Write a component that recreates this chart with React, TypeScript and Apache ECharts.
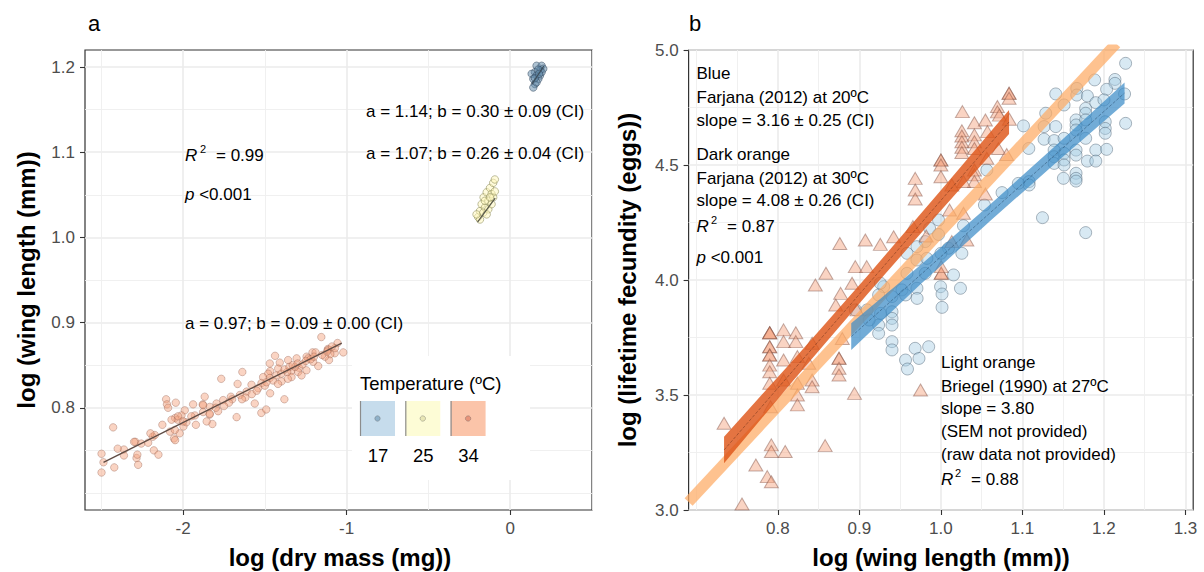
import React, { useEffect, useRef } from "react";
import * as echarts from "echarts";

const FONT = '"Liberation Sans", Arial, Helvetica, sans-serif';

// ---------- axis breaks ----------
const xTicksA = [-2, -1, 0];
const xMinorA = [-2.5, -1.5, -0.5, 0.5];
const yTicksA = [0.8, 0.9, 1.0, 1.1, 1.2];
const yMinorA = [0.7, 0.75, 0.85, 0.95, 1.05, 1.15];
const xTicksB = [0.8, 0.9, 1.0, 1.1, 1.2, 1.3];
const xMinorB = [0.7, 0.75, 0.85, 0.95, 1.05, 1.15, 1.25];
const yTicksB = [3.0, 3.5, 4.0, 4.5, 5.0];
const yMinorB = [3.25, 3.75, 4.25, 4.75];

// ---------- panel a data: [log dry mass, log wing length] ----------
const pointsA34 = [
  [-2.499, 0.746], [-2.499, 0.724], [-2.487, 0.736], [-2.428, 0.777], [-2.421, 0.73], [-2.362, 0.751], [-2.362, 0.744],
  [-2.292, 0.76], [-2.285, 0.741], [-2.275, 0.733], [-2.28, 0.745], [-2.256, 0.758], [-2.214, 0.759], [-2.186, 0.766],
  [-2.179, 0.75], [-2.151, 0.745], [-2.127, 0.78], [-2.104, 0.81], [-2.099, 0.804], [-2.092, 0.8], [-2.08, 0.772],
  [-2.056, 0.764], [-2.049, 0.788], [-2.045, 0.806], [-2.049, 0.762], [-2.033, 0.786], [-2.021, 0.77], [-1.998, 0.778],
  [-1.939, 0.804], [-1.922, 0.78], [-1.88, 0.804], [-1.868, 0.813], [-1.838, 0.792], [-1.821, 0.781], [-1.856, 0.784],
  [-1.767, 0.834], [-1.673, 0.789], [-1.638, 0.842], [-1.562, 0.805], [-1.522, 0.794], [-1.492, 0.798], [-1.468, 0.817],
  [-1.381, 0.81], [-1.155, 0.883], [-1.056, 0.876], [-1.021, 0.865], [-1.073, 0.864], [-1.115, 0.869], [-1.108, 0.856],
  [-1.174, 0.849], [-1.438, 0.861], [-1.409, 0.853], [-1.468, 0.843], [-1.339, 0.843], [-1.292, 0.847], [-1.245, 0.86],
  [-1.209, 0.865], [-1.113, 0.868], [-1.1, 0.863], [-1.19, 0.865], [-1.235, 0.858], [-1.306, 0.858], [-1.358, 0.856],
  [-1.47, 0.852], [-1.419, 0.846], [-1.364, 0.842], [-1.297, 0.842], [-1.246, 0.844], [-1.48, 0.84], [-1.511, 0.836],
  [-1.521, 0.829], [-1.541, 0.823], [-1.582, 0.827], [-1.612, 0.819], [-1.653, 0.815], [-1.667, 0.828], [-1.708, 0.813],
  [-1.755, 0.809], [-1.796, 0.805], [-1.837, 0.801], [-1.878, 0.803], [-1.99, 0.797], [-2.01, 0.791], [-2.031, 0.79],
  [-2.071, 0.786], [-2.051, 0.774], [-1.98, 0.783], [-1.928, 0.791], [-1.878, 0.795], [-1.837, 0.793], [-1.786, 0.796],
  [-2.173, 0.768], [-1.47, 0.835], [-1.398, 0.831], [-1.337, 0.836], [-1.276, 0.838], [-1.317, 0.848], [-1.205, 0.854],
  [-1.133, 0.86], [-1.072, 0.87], [-1.58, 0.816], [-1.55, 0.82], [-1.5, 0.826], [-1.45, 0.832], [-1.43, 0.838],
  [-1.4, 0.84], [-1.38, 0.845], [-1.35, 0.848], [-1.33, 0.85], [-1.3, 0.852], [-1.27, 0.851], [-1.25, 0.855],
  [-1.22, 0.857], [-1.2, 0.86], [-1.15, 0.862], [-1.12, 0.866], [-1.09, 0.872], [-1.7, 0.81], [-1.72, 0.806],
  [-1.75, 0.802], [-1.8, 0.8], [-1.95, 0.79], [-2.0, 0.784], [-2.2, 0.77], [-2.3, 0.76], [-2.4, 0.752],
  [-1.62, 0.812], [-1.64, 0.81], [-1.49, 0.83], [-1.42, 0.828], [-1.36, 0.834],
];
const pointsA25 = [
  [-0.196, 1.024], [-0.185, 1.031], [-0.175, 1.039], [-0.163, 1.047], [-0.155, 1.035], [-0.144, 1.053], [-0.134, 1.043],
  [-0.124, 1.058], [-0.114, 1.051], [-0.104, 1.064], [-0.094, 1.068], [-0.185, 1.021], [-0.165, 1.029], [-0.134, 1.033],
  [-0.114, 1.039], [-0.144, 1.027], [-0.104, 1.047], [-0.094, 1.054], [-0.206, 1.027], [-0.155, 1.043], [-0.124, 1.047],
];
const pointsA17 = [
  [0.161, 1.2015], [0.192, 1.2015], [0.202, 1.198], [0.182, 1.196], [0.151, 1.194], [0.131, 1.192], [0.161, 1.19],
  [0.182, 1.19], [0.141, 1.186], [0.172, 1.186], [0.151, 1.18], [0.141, 1.176], [0.161, 1.182], [0.192, 1.194],
  [0.171, 1.197], [0.151, 1.187], [0.176, 1.192],
];
const fitA34 = [[-2.487, 0.736], [-1.03, 0.876]];
const fitA25 = [[-0.2, 1.018], [-0.092, 1.046]];
const fitA17 = [[0.133, 1.18], [0.205, 1.201]];

// ---------- panel b data: [log wing length, log lifetime fecundity] ----------
const fecBlue = [
  [1.2266, 4.942], [1.1886, 4.87], [1.2135, 4.872], [1.2135, 4.855], [1.2033, 4.829], [1.1409, 4.809], [1.1667, 4.833],
  [1.1667, 4.804], [1.1797, 4.8], [1.2253, 4.809], [1.1511, 4.761], [1.1286, 4.725], [1.1776, 4.746], [1.1776, 4.725],
  [1.19, 4.771], [1.2, 4.783], [1.1013, 4.67], [1.1266, 4.667], [1.1409, 4.667], [1.1658, 4.696], [1.1658, 4.674],
  [1.1658, 4.652], [1.1776, 4.696], [1.2016, 4.688], [1.2016, 4.659], [1.2016, 4.638], [1.2266, 4.681], [1.1266, 4.612],
  [1.1389, 4.606], [1.1511, 4.616], [1.1776, 4.616], [1.1078, 4.572], [1.1389, 4.565], [1.1389, 4.536], [1.1389, 4.507],
  [1.1511, 4.551], [1.1511, 4.522], [1.1511, 4.5], [1.1658, 4.565], [1.1658, 4.543], [1.19, 4.565], [1.2033, 4.568],
  [1.1797, 4.517], [1.19, 4.517], [1.1503, 4.442], [1.1658, 4.464], [1.1658, 4.442], [1.1658, 4.43], [1.1082, 4.428],
  [1.1082, 4.413], [1.1246, 4.271], [1.1776, 4.206], [1.0563, 4.478], [1.0534, 4.326], [0.9971, 4.261], [0.9861, 4.225],
  [1.0277, 4.236], [0.9971, 4.198], [0.9808, 4.167], [1.0093, 4.138], [1.0257, 4.116], [1.0, 4.116], [0.9706, 4.145],
  [0.9584, 4.116], [0.9706, 4.087], [0.9828, 4.094], [1.0155, 4.022], [0.9996, 3.971], [1.024, 3.964], [0.9706, 3.964],
  [0.9522, 3.957], [0.9298, 3.971], [0.9808, 4.029], [0.9584, 4.029], [0.9236, 3.935], [0.94, 3.928], [0.9566, 3.935],
  [0.9708, 3.92], [1.0014, 3.939], [1.0014, 3.881], [0.9094, 3.87], [0.926, 3.855], [0.94, 3.862], [0.94, 3.833],
  [0.94, 3.804], [0.9236, 3.804], [0.9236, 3.768], [0.94, 3.732], [0.94, 3.696], [0.9684, 3.703], [0.985, 3.71],
  [0.9566, 3.652], [0.9731, 3.659], [0.959, 3.613], [0.895, 3.87], [0.912, 3.826], [0.9257, 3.986], [1.095, 4.42],
  [1.075, 4.38],
];
const fecOrange = [
  [0.846, 3.978], [0.877, 3.942], [0.891, 3.986], [0.871, 3.891], [0.897, 3.87], [0.79, 3.771], [0.79, 3.771],
  [0.79, 3.771], [0.807, 3.783], [0.822, 3.771], [0.807, 3.732], [0.822, 3.732], [0.79, 3.71], [0.79, 3.71],
  [0.79, 3.674], [0.79, 3.674], [0.79, 3.63], [0.79, 3.601], [0.807, 3.652], [0.824, 3.667], [0.842, 3.725],
  [0.838, 3.638], [0.875, 3.66], [0.875, 3.66], [0.875, 3.616], [0.875, 3.587], [0.879, 3.746], [0.79, 3.551],
  [0.807, 3.565], [0.824, 3.551], [0.842, 3.565], [0.842, 3.536], [0.824, 3.5], [0.824, 3.457], [0.791, 3.449],
  [0.894, 3.507], [0.734, 3.377], [0.792, 3.283], [0.792, 3.254], [0.809, 3.254], [0.858, 3.28], [0.773, 3.196],
  [0.787, 3.145], [0.792, 3.123], [0.756, 3.026], [0.975, 3.522], [1.0836, 4.812], [1.0836, 4.812], [1.0836, 4.79],
  [1.0693, 4.754], [1.0693, 4.731], [1.0718, 4.717], [1.0264, 4.732], [1.0411, 4.684], [1.0546, 4.696], [1.084, 4.699],
  [1.0257, 4.649], [1.0257, 4.626], [1.0257, 4.601], [1.0257, 4.577], [1.0257, 4.554], [1.0411, 4.631], [1.0411, 4.601],
  [1.0411, 4.572], [1.0571, 4.645], [1.0706, 4.572], [1.0807, 4.546], [1.0563, 4.529], [1.0, 4.522], [1.0, 4.522],
  [1.0, 4.5], [1.0, 4.449], [1.0411, 4.478], [1.0411, 4.457], [1.0411, 4.428], [1.0277, 4.428], [1.0134, 4.413],
  [1.0546, 4.374], [0.9685, 4.442], [0.9685, 4.391], [0.9685, 4.352], [1.0106, 4.304], [1.0277, 4.29], [0.9657, 4.232],
  [0.982, 4.191], [0.942, 4.188], [0.9257, 4.155], [0.9073, 4.174], [1.0004, 4.029], [1.0004, 4.029], [1.0004, 4.058],
  [1.0134, 4.167], [1.0318, 4.174], [0.876, 4.159], [0.895, 4.058], [0.909, 4.058], [0.859, 4.029],
];
const ribbonDarkX = [0.734, 0.82, 0.91, 1.0, 1.0836];
const ribbonDarkLo = [3.203, 3.567, 3.939, 4.302, 4.635];
const ribbonDarkHi = [3.319, 3.657, 4.019, 4.39, 4.739];
const ribbonBlueX = [0.89, 0.975, 1.06, 1.145, 1.2253];
const ribbonBlueLo = [3.696, 3.981, 4.255, 4.522, 4.767];
const ribbonBlueHi = [3.812, 4.065, 4.327, 4.598, 4.859];
const fitDark = [[0.734, 3.261], [1.0836, 4.687]];
const fitBlue = [[0.89, 3.754], [1.2253, 4.813]];
const fitLight = [[0.6905, 3.035], [1.215, 5.028]];

// legend
const legendTemps = ["17", "25", "34"];
const legendFill = ["#c6dcec", "#fdfcd6", "#fbc4a9"];
const legendDot = ["#8fb1c9", "#e9e7b5", "#e8947a"];

// ---------- helpers ----------
const majorAxis = (gridIndex: number, min: number, max: number, ticks: number[], fmt: (v: number) => string, pos: string) => ({
  type: "value", gridIndex, min, max, position: pos,
  axisLine: { show: false, onZero: false },
  axisTick: { show: true, customValues: ticks, length: 5, lineStyle: { color: "#333333", width: 1.1 } },
  axisLabel: { customValues: ticks, formatter: fmt, color: "#4d4d4d", fontSize: 17, fontFamily: FONT, margin: 10 },
  splitLine: { show: true, lineStyle: { color: "#ebebeb", width: 1.6 } },
});
const minorAxis = (gridIndex: number, min: number, max: number, ticks: number[], pos: string) => ({
  type: "value", gridIndex, min, max, position: pos,
  axisLine: { show: false, onZero: false },
  axisTick: { show: false, customValues: ticks },
  axisLabel: { show: false, customValues: ticks },
  splitLine: { show: true, lineStyle: { color: "#eeeeee", width: 0.9 } },
});

const ribbon = (xs: number[], lo: number[], hi: number[], color: string) => ({
  type: "custom", xAxisIndex: 2, yAxisIndex: 2, silent: true, z: 4,
  data: xs.map((x, i) => [x, lo[i], hi[i]]),
  renderItem: (params: any, api: any) => {
    if (params.dataIndex !== 0) return null;
    const pts: number[][] = [];
    for (let i = 0; i < xs.length; i++) pts.push(api.coord([xs[i], hi[i]]));
    for (let i = xs.length - 1; i >= 0; i--) pts.push(api.coord([xs[i], lo[i]]));
    return { type: "polygon", shape: { points: pts }, style: { fill: color } };
  },
});

const T = (x: number, y: number, text: string, size = 17, extra: any = {}, styleExtra: any = {}) => ({
  type: "text", x, y, z: 60, ...extra,
  style: { text, fontSize: size, fontFamily: FONT, fill: "#000", align: "left", verticalAlign: "middle", ...styleExtra },
});
const italicP = (x: number, y: number) =>
  T(x, y, "{i|p} <0.001", 17, {}, { rich: { i: { fontStyle: "italic", fontSize: 17, fontFamily: FONT, fill: "#000" } } });
const rSquared = (x: number, y: number, supX: number, eqX: number, val: string) => [
  T(x, y, "R", 17, {}, { fontStyle: "italic" }),
  T(supX, y - 6, "2", 11),
  T(eqX, y, "= " + val, 17),
];

export default function App() {
  const ref = useRef<HTMLDivElement>(null);
  useEffect(() => {
    const chart = echarts.init(ref.current!, null, { renderer: "svg" });

    const legendEls: any[] = [
      { type: "rect", z: 50, shape: { x: 352, y: 356, width: 178, height: 124 }, style: { fill: "#ffffff" } },
      T(360, 383, "Temperature (ºC)", 18.5),
    ];
    legendTemps.forEach((lab, i) => {
      const kx = 360 + i * 45.3;
      legendEls.push(
        { type: "rect", z: 55, shape: { x: kx, y: 401, width: 35, height: 35 }, style: { fill: legendFill[i] } },
        { type: "line", z: 56, shape: { x1: kx + 0.5, y1: 401, x2: kx + 0.5, y2: 436 }, style: { stroke: "#8c8c8c", lineWidth: 1.2 } },
        { type: "circle", z: 56, shape: { cx: kx + 17.5, cy: 418.5, r: 2.7 }, style: { fill: legendDot[i], stroke: "rgba(90,90,90,0.45)", lineWidth: 0.8 } },
        T(kx + 18, 455, lab, 18.5, {}, { align: "center" })
      );
    });

    const texts: any[] = [
      T(88, 23, "a", 22),
      T(689, 23, "b", 22),
      ...rSquared(185, 155, 200, 216, "0.99"),
      italicP(185, 194),
      T(366, 111, "a = 1.14; b = 0.30 ± 0.09 (CI)"),
      T(366, 153, "a = 1.07; b = 0.26 ± 0.04 (CI)"),
      T(185, 323, "a = 0.97; b = 0.09 ± 0.00 (CI)"),
      T(696.5, 73, "Blue"),
      T(696.5, 97, "Farjana (2012) at 20ºC"),
      T(696.5, 120, "slope = 3.16 ± 0.25 (CI)"),
      T(696.5, 154, "Dark orange"),
      T(696.5, 178, "Farjana (2012) at 30ºC"),
      T(696.5, 200, "slope = 4.08 ± 0.26 (CI)"),
      ...rSquared(696.5, 226, 711, 727, "0.87"),
      italicP(696.5, 257),
      T(941, 362, "Light orange"),
      T(941, 386, "Briegel (1990) at 27ºC"),
      T(941, 408, "slope = 3.80"),
      T(941, 431, "(SEM not provided)"),
      T(941, 454, "(raw data not provided)"),
      ...rSquared(941, 479, 955, 971, "0.88"),
      T(26, 280, "log (wing length (mm))", 24, { rotation: Math.PI / 2 }, { fontWeight: "bold", align: "center" }),
      T(340, 557, "log (dry mass (mg))", 24, {}, { fontWeight: "bold", align: "center" }),
      T(627, 280, "log (lifetime fecundity (eggs))", 24, { rotation: Math.PI / 2 }, { fontWeight: "bold", align: "center" }),
      T(941, 557, "log (wing length (mm))", 24, {}, { fontWeight: "bold", align: "center" }),
    ];

    const pA = { xAxisIndex: 0, yAxisIndex: 0 };
    const pB = { xAxisIndex: 2, yAxisIndex: 2 };

    chart.setOption({
      animation: false,
      backgroundColor: "#ffffff",
      grid: [
        { left: 85, top: 50, width: 507, height: 460, show: true, borderColor: "#333333", borderWidth: 1.2, backgroundColor: "transparent" },
        { left: 688.6, top: 50, width: 504.6, height: 460, show: true, borderColor: "#333333", borderWidth: 1.2, backgroundColor: "transparent" },
      ],
      xAxis: [
        majorAxis(0, -2.6, 0.5, xTicksA, (v: number) => String(v), "bottom"),
        minorAxis(0, -2.6, 0.5, xMinorA, "bottom"),
        majorAxis(1, 0.6905, 1.3095, xTicksB, (v: number) => v.toFixed(1), "bottom"),
        minorAxis(1, 0.6905, 1.3095, xMinorB, "bottom"),
      ],
      yAxis: [
        majorAxis(0, 0.68, 1.22, yTicksA, (v: number) => v.toFixed(1), "left"),
        minorAxis(0, 0.68, 1.22, yMinorA, "left"),
        majorAxis(1, 3.0, 5.0, yTicksB, (v: number) => v.toFixed(1), "left"),
        minorAxis(1, 3.0, 5.0, yMinorB, "left"),
      ],
      series: [
        { type: "scatter", ...pA, data: pointsA34, symbolSize: 7.5, silent: true,
          itemStyle: { color: "rgba(244,165,130,0.6)", borderColor: "rgba(140,90,75,0.55)", borderWidth: 0.8 } },
        { type: "scatter", ...pA, data: pointsA25, symbolSize: 7.5, silent: true,
          itemStyle: { color: "rgba(255,247,188,0.65)", borderColor: "rgba(120,120,70,0.75)", borderWidth: 0.8 } },
        { type: "scatter", ...pA, data: pointsA17, symbolSize: 7.5, silent: true,
          itemStyle: { color: "rgba(100,140,170,0.65)", borderColor: "rgba(50,70,90,0.8)", borderWidth: 0.8 } },
        { type: "line", ...pA, data: fitA34, symbol: "none", silent: true, lineStyle: { color: "#5f4c45", width: 1.4 } },
        { type: "line", ...pA, data: fitA25, symbol: "none", silent: true, lineStyle: { color: "#555548", width: 1.2 } },
        { type: "line", ...pA, data: fitA17, symbol: "none", silent: true, lineStyle: { color: "#3d4f5c", width: 1.2 } },

        { type: "scatter", ...pB, data: fecBlue, symbolSize: 12, silent: true,
          itemStyle: { color: "rgba(166,206,227,0.55)", borderColor: "rgba(70,90,110,0.55)", borderWidth: 1 } },
        { type: "scatter", ...pB, data: fecOrange, symbol: "triangle", symbolSize: [14, 12], silent: true,
          itemStyle: { color: "rgba(244,165,130,0.6)", borderColor: "rgba(120,70,60,0.55)", borderWidth: 1 } },
        { type: "line", ...pB, data: fitLight, symbol: "none", silent: true, clip: true, z: 3,
          lineStyle: { color: "rgba(253,170,100,0.72)", width: 11, cap: "butt" } },
        ribbon(ribbonDarkX, ribbonDarkLo, ribbonDarkHi, "rgba(222,85,25,0.82)"),
        ribbon(ribbonBlueX, ribbonBlueLo, ribbonBlueHi, "rgba(60,140,200,0.72)"),
        { type: "line", ...pB, data: fitDark, symbol: "none", silent: true, z: 5,
          lineStyle: { color: "rgba(90,40,20,0.55)", width: 0.8, type: "dashed" } },
        { type: "line", ...pB, data: fitBlue, symbol: "none", silent: true, z: 5,
          lineStyle: { color: "rgba(30,60,90,0.55)", width: 0.8, type: "dashed" } },
      ],
      graphic: [...legendEls, ...texts],
    });
    return () => chart.dispose();
  }, []);
  return <div ref={ref} style={{ position: "fixed", left: 0, top: 0, width: 1204, height: 572, background: "#fff" }} />;
}
